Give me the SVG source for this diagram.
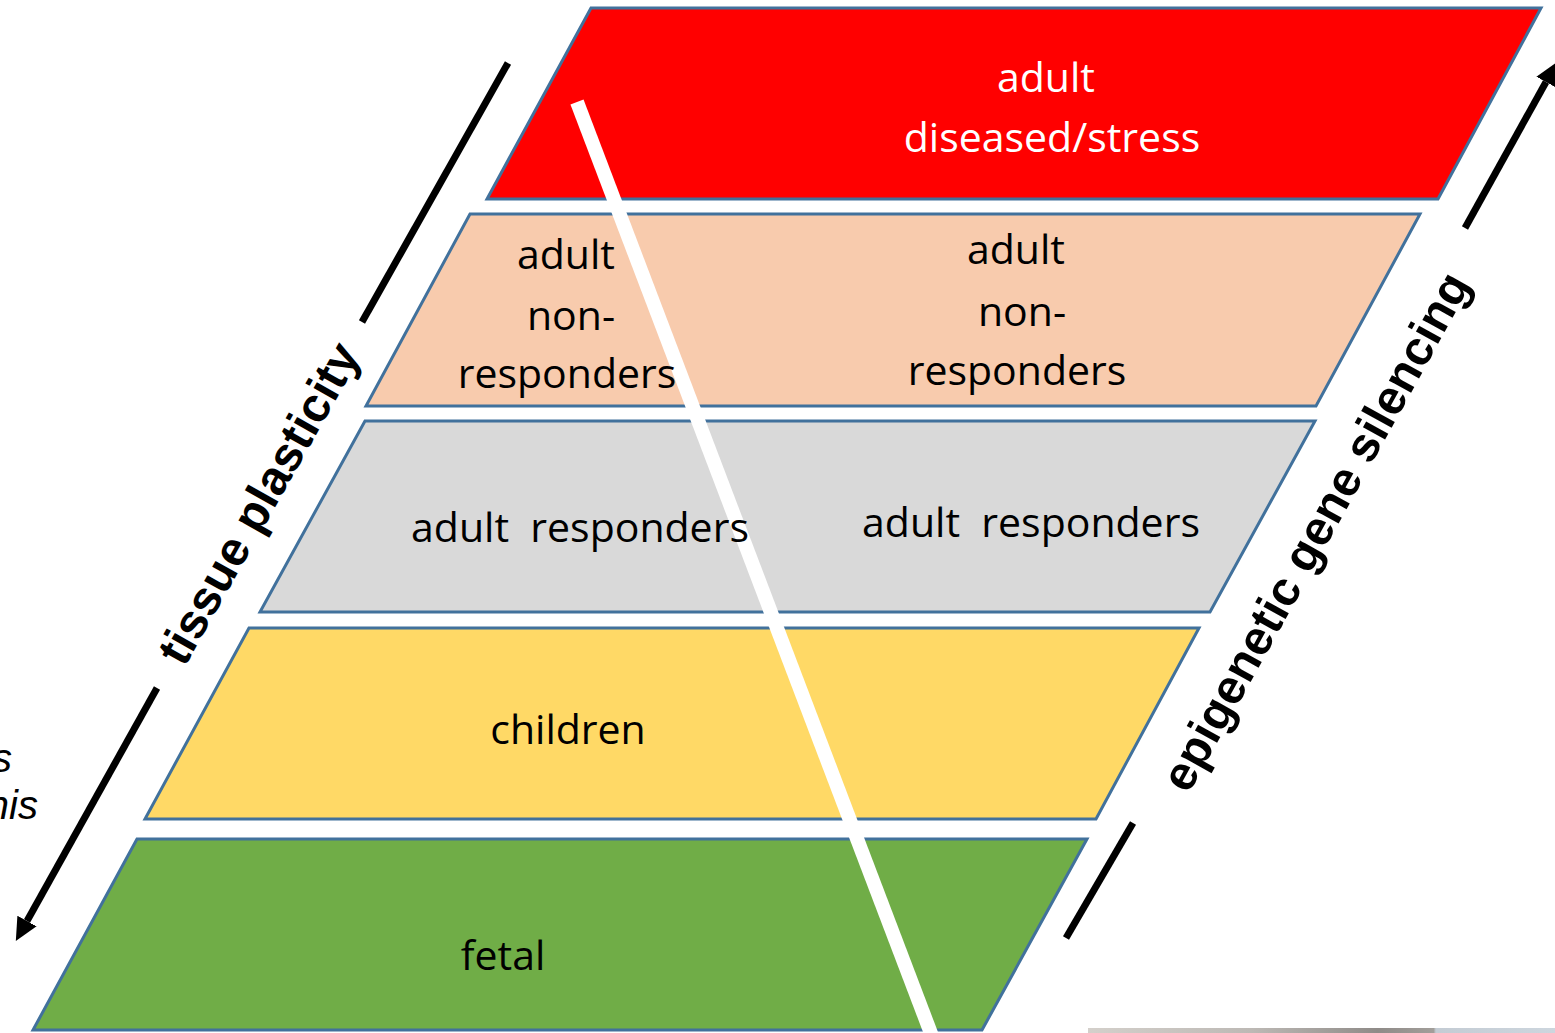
<svg xmlns="http://www.w3.org/2000/svg" width="1555" height="1033" viewBox="0 0 1555 1033">
  <style>
    .band { stroke: #41719C; stroke-width: 3; stroke-linejoin: miter; }
    .lbl { font-family: "Open Sans", "Noto Sans", sans-serif; font-size: 41px; text-anchor: middle; fill: #000; }
    .lbl-w { fill: #fff; }
    .axis { stroke: #000; stroke-width: 7; fill: none; }
    .axis-label { font-family: "Liberation Sans", Arial, sans-serif; font-size: 48px; font-weight: bold; text-anchor: middle; fill: #000; }
    .side { font-family: "Liberation Sans", Arial, sans-serif; font-size: 40px; font-style: italic; text-anchor: end; fill: #000; }
  </style>
  <defs>
    <marker id="arrowhead" markerUnits="userSpaceOnUse" markerWidth="24" markerHeight="24" viewBox="0 0 24 24" refX="0" refY="12" orient="auto">
      <path d="M0,1 L23,12 L0,23 Z" fill="#000"/>
    </marker>
    <linearGradient id="strip" x1="0" y1="0" x2="1" y2="0">
      <stop offset="0" stop-color="#d4d0cb"/>
      <stop offset="0.35" stop-color="#bdb9b5"/>
      <stop offset="0.62" stop-color="#8f8b88"/>
      <stop offset="0.74" stop-color="#a29e9a"/>
      <stop offset="0.745" stop-color="#c4ccd4"/>
      <stop offset="1" stop-color="#cdd6de"/>
    </linearGradient>
  </defs>
  <rect width="1555" height="1033" fill="#fff"/>

  <!-- stacked bands, top to bottom -->
  <g id="band-adult-diseased">
    <polygon class="band" points="591,8 1541,8 1438,199 487,199" fill="#FF0000"/>
  </g>
  <g id="band-non-responders">
    <polygon class="band" points="470,214 1420,214 1316,406 366,406" fill="#F8CBAD"/>
  </g>
  <g id="band-responders">
    <polygon class="band" points="365,421 1315,421 1210,612 260,612" fill="#D9D9D9"/>
  </g>
  <g id="band-children">
    <polygon class="band" points="249,628 1199,628 1096,819 145,819" fill="#FFD966"/>
  </g>
  <g id="band-fetal">
    <polygon class="band" points="137,839 1087,839 982,1030 33,1030" fill="#70AD47"/>
  </g>

  <!-- white divider across the bands -->
  <g id="divider">
    <line x1="577" y1="102" x2="932" y2="1036" stroke="#fff" stroke-width="14"/>
  </g>

  <!-- band labels -->
  <g id="labels">
    <g id="label-adult-diseased">
      <text class="lbl lbl-w" x="1046" y="92">adult</text>
      <text class="lbl lbl-w" x="1052" y="152">diseased/stress</text>
    </g>
    <g id="label-non-responders">
      <text class="lbl" x="566" y="269">adult</text>
      <text class="lbl" x="571" y="330">non-</text>
      <text class="lbl" x="567" y="388">responders</text>
      <text class="lbl" x="1016" y="264">adult</text>
      <text class="lbl" x="1022" y="326">non-</text>
      <text class="lbl" x="1017" y="385">responders</text>
    </g>
    <g id="label-responders">
      <text class="lbl" x="580" y="542" xml:space="preserve">adult  responders</text>
      <text class="lbl" x="1031" y="537" xml:space="preserve">adult  responders</text>
    </g>
    <g id="label-children">
      <text class="lbl" x="568" y="744">children</text>
    </g>
    <g id="label-fetal">
      <text class="lbl" x="503" y="970">fetal</text>
    </g>
  </g>

  <!-- axes -->
  <g id="connectors">
    <line class="axis" x1="508" y1="63" x2="362" y2="322"/>
    <line class="axis" x1="157" y1="688" x2="27" y2="921" marker-end="url(#arrowhead)"/>
    <line class="axis" x1="1066" y1="938" x2="1133" y2="823"/>
    <line class="axis" x1="1465" y1="228" x2="1546" y2="82" marker-end="url(#arrowhead)"/>
  </g>
  <text class="axis-label" transform="translate(258,503) rotate(-60.5)" y="17">tissue plasticity</text>
  <text class="axis-label" transform="translate(1315,531) rotate(-61)" y="17" font-size="47">epigenetic gene silencing</text>

  <!-- cut-off side text at the left edge -->
  <text class="side" x="12" y="772">s</text>
  <text class="side" x="38" y="819">nis</text>

  <!-- strip along the bottom edge -->
  <rect x="1088" y="1028" width="467" height="5" fill="url(#strip)"/>
</svg>
